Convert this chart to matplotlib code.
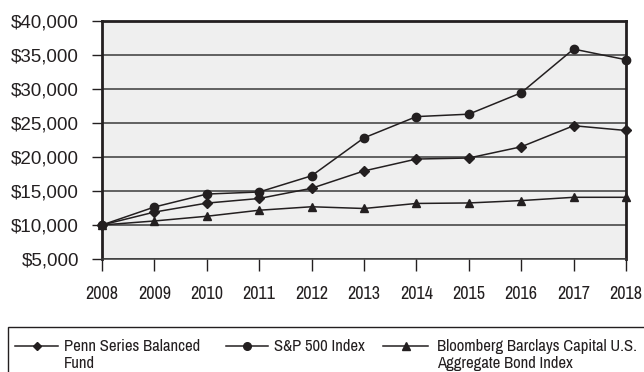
#!/usr/bin/env python3

import matplotlib

matplotlib.use("Agg")
import matplotlib.pyplot as plt
from matplotlib import font_manager
from matplotlib.lines import Line2D
from matplotlib.patches import Rectangle
from matplotlib.ticker import FuncFormatter

years = [2008, 2009, 2010, 2011, 2012, 2013, 2014, 2015, 2016, 2017, 2018]
balanced_fund = [10000, 11900, 13220, 13900, 15400, 17950, 19700, 19850, 21500, 24600, 23900]
sp500 = [10000, 12646, 14550, 14857, 17234, 22816, 25940, 26298, 29444, 35872, 34301]
agg_bond = [10000, 10593, 11286, 12171, 12683, 12427, 13169, 13241, 13592, 14073, 14075]

series_labels = [
    "Penn Series Balanced\nFund",
    "S&P 500 Index",
    "Bloomberg Barclays Capital U.S.\nAggregate Bond Index",
]
series_markers = ["D", "o", "^"]
y_ticks = [5000, 10000, 15000, 20000, 25000, 30000, 35000, 40000]

# a narrow face if one exists, otherwise plain Liberation Sans at a smaller size
narrow_names = sorted(
    {f.name for f in font_manager.fontManager.ttflist
     if "Narrow" in f.name or "Condensed" in f.name}
)
if narrow_names:
    NARROW = [narrow_names[0], "DejaVu Sans"]
    x_size, legend_size = 13, 12
else:
    NARROW = ["Liberation Sans", "DejaVu Sans"]
    x_size, legend_size = 10.5, 9.9
REGULAR = ["Liberation Sans", "DejaVu Sans"]
INK = "#231f20"

W, H = 644, 372
fig = plt.figure(figsize=(W / 100, H / 100), dpi=100)
ax = fig.add_axes([102 / W, 1 - 259 / H, (626 - 102) / W, (259 - 21) / H])
ax.set_facecolor("#efefef")

marker_sizes = {"D": 5, "o": 6, "^": 6}
for values, marker in zip([balanced_fund, sp500, agg_bond], series_markers):
    ax.plot(
        years,
        values,
        color=INK,
        linewidth=1.1,
        marker=marker,
        markersize=marker_sizes[marker],
        clip_on=False,
        zorder=4,
    )

ax.set_xlim(2008, 2018)
ax.set_ylim(5000, 40000)
ax.set_xticks(years)
ax.set_yticks(y_ticks)
ax.yaxis.set_major_formatter(FuncFormatter(lambda v, _: f"${v:,.0f}"))
ax.grid(axis="y", color="#3a3a3a", linewidth=1.1)
ax.set_axisbelow(True)

for side in ("top", "right", "left"):
    ax.spines[side].set_linewidth(2.0)
    ax.spines[side].set_color(INK)
ax.spines["bottom"].set_linewidth(1.1)
ax.spines["bottom"].set_color("#3a3a3a")

ax.tick_params(axis="y", direction="out", length=7.5, width=1, color=INK, pad=9)
ax.tick_params(axis="x", direction="out", length=8.5, width=1, color=INK, pad=11)
for lbl in ax.get_yticklabels():
    lbl.set_family(REGULAR)
    lbl.set_fontsize(13.5)
    lbl.set_color(INK)
for lbl in ax.get_xticklabels():
    lbl.set_family(NARROW)
    lbl.set_fontsize(x_size)
    lbl.set_color(INK)

# legend drawn by hand in a box that runs off the bottom and right edges
fig.patches.append(
    Rectangle((8 / W, -0.05), (660 - 8) / W, 0.05 + (1 - 327 / H),
              transform=fig.transFigure, fill=False, edgecolor=INK, linewidth=1.0)
)
handle_spans = [(15, 58), (226, 268), (383, 428)]
text_x = [64, 274, 437]
line_y = 1 - 346 / H
for (x0, x1), tx, marker, label in zip(handle_spans, text_x, series_markers, series_labels):
    fig.lines.append(
        Line2D([x0 / W, x1 / W], [line_y, line_y], transform=fig.transFigure,
               color=INK, linewidth=1.1)
    )
    fig.lines.append(
        Line2D([(x0 + x1) / 2 / W], [line_y], transform=fig.transFigure, color=INK,
               marker=marker, markersize=marker_sizes[marker] - 0.5, linestyle="none")
    )
    fig.text(tx / W, 1 - 339 / H, label, family=NARROW, fontsize=legend_size, color=INK,
             ha="left", va="top", linespacing=1.15)

fig.savefig("out.png", dpi=100)
